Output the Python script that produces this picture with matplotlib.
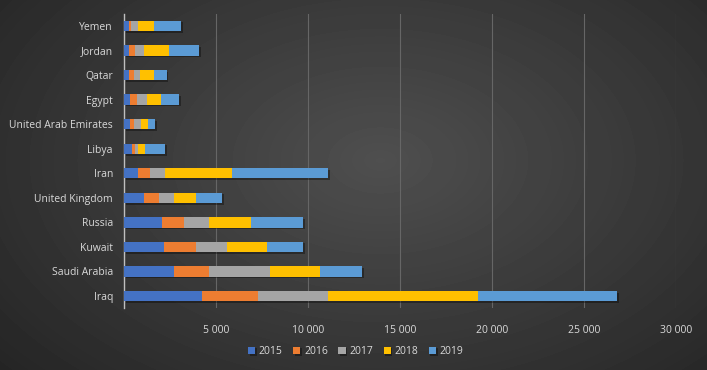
import numpy as np
import matplotlib
matplotlib.use("Agg")
import matplotlib.pyplot as plt
import matplotlib.patheffects as pe
from matplotlib.ticker import FuncFormatter

# Data, bottom-to-top order
countries = ["Iraq", "Saudi Arabia", "Kuwait", "Russia", "United Kingdom", "Iran",
             "Libya", "United Arab Emirates", "Egypt", "Qatar", "Jordan", "Yemen"]
years = ["2015", "2016", "2017", "2018", "2019"]
v2015 = [4240, 2720, 2175, 2065, 1090, 760, 435, 310, 330, 255, 270, 255]
v2016 = [3045, 1900, 1740, 1195, 815, 650, 180, 220, 380, 290, 330, 110]
v2017 = [3800, 3300, 1685, 1360, 815, 815, 145, 380, 540, 330, 490, 380]
v2018 = [8150, 2735, 2175, 2280, 1200, 3640, 380, 380, 760, 760, 1360, 885]
v2019 = [7555, 2280, 1955, 2830, 1410, 5220, 1090, 400, 980, 690, 1630, 1470]
colors = ["#4472C4", "#ED7D31", "#A5A5A5", "#FFC000", "#5B9BD5"]

plt.rcParams["font.family"] = ["Open Sans", "DejaVu Sans"]
text_color = "#d9d9d9"

fig = plt.figure(figsize=(7.07, 3.70), dpi=100)

# Dark radial gradient background
bg = fig.add_axes([0, 0, 1, 1], zorder=0)
yy, xx = np.mgrid[0:370, 0:707]
r = np.sqrt(((xx - 380) / 520.0) ** 2 + ((yy - 160) / 330.0) ** 2)
shade = np.clip(0.31 - 0.17 * r, 0.11, 0.31)
bg.imshow(shade, cmap="gray", vmin=0, vmax=1, aspect="auto", interpolation="bilinear")
bg.axis("off")

ax = fig.add_axes([0.1754, 0.1668, 0.7807, 0.7962], zorder=1)
ax.patch.set_alpha(0)

y = np.arange(len(countries))
series = [v2015, v2016, v2017, v2018, v2019]
left = np.zeros(len(countries))
shadow = [pe.SimplePatchShadow(offset=(1.2, -1.2), shadow_rgbFace="black", alpha=0.35), pe.Normal()]
for name, vals, c in zip(years, series, colors):
    bars = ax.barh(y, vals, left=left, height=0.42, color=c, label=name, zorder=3)
    for b in bars:
        b.set_path_effects(shadow)
    left += np.array(vals)

ax.set_xlim(0, 30000)
ax.set_ylim(-0.5, len(countries) - 0.5)
ax.set_yticks(y)
ax.set_yticklabels(countries)
ax.set_xticks(np.arange(0, 30001, 5000))
ax.xaxis.set_major_formatter(FuncFormatter(lambda v, p: "" if v == 0 else f"{int(v):,}".replace(",", " ")))
ax.tick_params(axis="both", length=0, colors=text_color, labelsize=7.5)
ax.tick_params(axis="x", pad=12)
ax.tick_params(axis="y", pad=8)

ax.grid(axis="x", color="#666666", linewidth=0.8, zorder=0)
for s in ["top", "right", "bottom"]:
    ax.spines[s].set_visible(False)
ax.spines["left"].set_color("#bfbfbf")
ax.spines["left"].set_linewidth(1.0)

leg = fig.legend(loc="lower center", bbox_to_anchor=(0.503, 0.01), ncol=5, frameon=False,
                 fontsize=7.5, handlelength=0.7, handleheight=0.7, handletextpad=0.35,
                 columnspacing=1.0)
for t in leg.get_texts():
    t.set_color(text_color)

fig.savefig("out.png", dpi=100)
